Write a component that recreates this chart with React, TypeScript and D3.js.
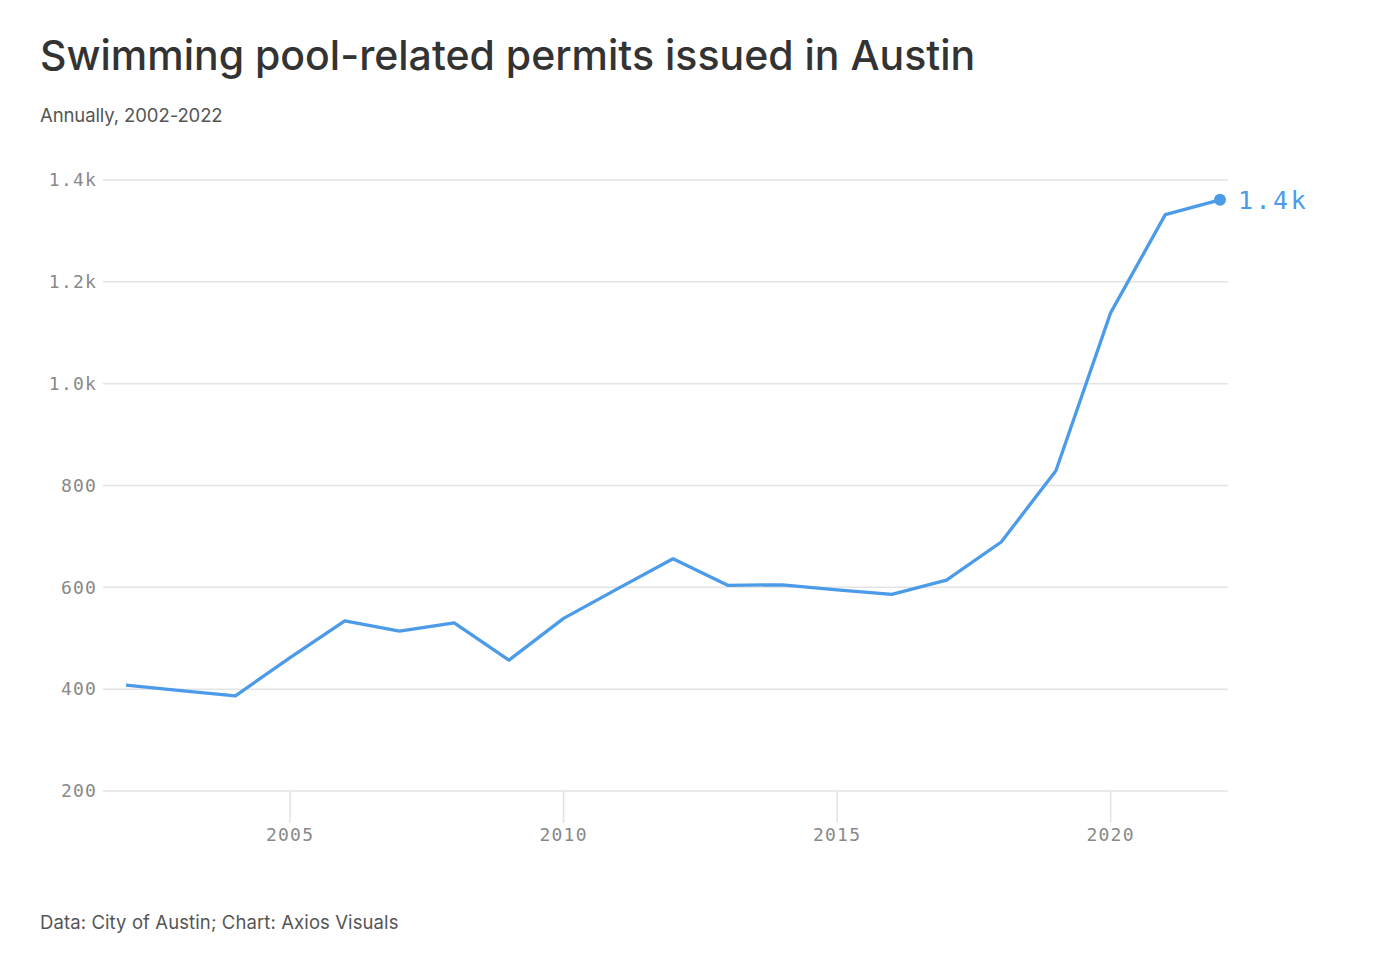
import { useMemo } from 'react';
import * as d3 from 'd3';

const years = [2002, 2003, 2004, 2005, 2006, 2007, 2008, 2009, 2010, 2011, 2012, 2013, 2014, 2015, 2016, 2017, 2018, 2019, 2020, 2021, 2022];
const permits = [408, 397, 387, 462, 534, 514, 530, 457, 539, 598, 656, 604, 605, 595, 586, 614, 689, 829, 1139, 1332, 1361];
const yTicks = [200, 400, 600, 800, 1000, 1200, 1400];
const xTicks = [2005, 2010, 2015, 2020];

const WIDTH = 1400;
const HEIGHT = 956;
const BLUE = '#4b9be8';
const MONO = '"DejaVu Sans Mono", monospace';
const SANS = 'Inter, "Noto Sans", sans-serif';

function formatTick(v: number) {
  return v >= 1000 ? `${(v / 1000).toFixed(1)}k` : `${v}`;
}

export default function App() {
  const points = useMemo(() => years.map((y, i) => ({ year: y, value: permits[i] })), []);

  const x = d3.scaleLinear().domain([2002, 2022]).range([126, 1220]);
  const y = d3.scaleLinear().domain([200, 1400]).range([791, 180]);

  const line = d3
    .line<{ year: number; value: number }>()
    .x((d) => x(d.year))
    .y((d) => y(d.value));

  const last = points[points.length - 1];

  return (
    <svg
      width={WIDTH}
      height={HEIGHT}
      style={{ position: 'absolute', left: 0, top: 0, background: '#fff' }}
    >
      {/* Title block */}
      <text x={40} y={70} fontFamily={SANS} fontSize={41} fontWeight={500} fill="#333">
        Swimming pool-related permits issued in Austin
      </text>
      <text x={40} y={122} fontFamily={SANS} fontSize={18.5} letterSpacing={-0.1} fill="#555">
        Annually, 2002-2022
      </text>

      {/* Grid lines + y labels */}
      {yTicks.map((t) => (
        <g key={t}>
          <line x1={103} x2={1228} y1={y(t)} y2={y(t)} stroke="#e3e3e3" strokeWidth={1.5} />
          <text
            x={97}
            y={y(t)}
            dy="0.35em"
            textAnchor="end"
            fontFamily={MONO}
            fontSize={18}
            letterSpacing={1.2}
            fill="#888"
          >
            {formatTick(t)}
          </text>
        </g>
      ))}

      {/* X ticks */}
      {xTicks.map((t) => (
        <g key={t}>
          <line x1={x(t)} x2={x(t)} y1={791} y2={823} stroke="#e3e3e3" strokeWidth={1.5} />
          <text
            x={x(t)}
            y={841}
            textAnchor="middle"
            fontFamily={MONO}
            fontSize={18}
            letterSpacing={1.2}
            fill="#888"
          >
            {t}
          </text>
        </g>
      ))}

      {/* Series */}
      <path d={line(points) ?? ''} fill="none" stroke={BLUE} strokeWidth={3.3} strokeLinejoin="round" />
      <circle cx={x(last.year)} cy={y(last.value)} r={6} fill={BLUE} />
      <text
        x={x(last.year) + 18}
        y={y(last.value)}
        dy="0.35em"
        fontFamily={MONO}
        fontSize={25}
        letterSpacing={2.5}
        fill={BLUE}
      >
        {formatTick(1400)}
      </text>

      {/* Footer */}
      <text x={40} y={929} fontFamily={SANS} fontSize={18.5} letterSpacing={0.1} fill="#555">
        Data: City of Austin; Chart: Axios Visuals
      </text>
    </svg>
  );
}
